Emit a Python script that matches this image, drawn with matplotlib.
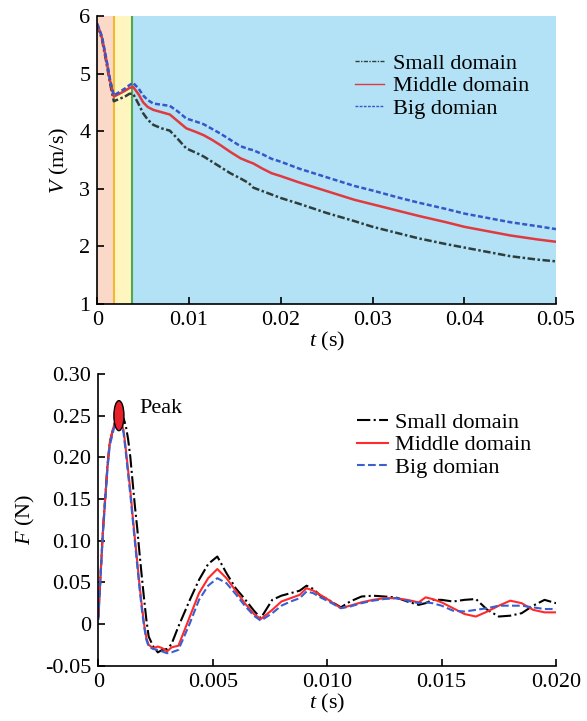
import matplotlib
matplotlib.use("Agg")
import matplotlib.pyplot as plt
from matplotlib.patches import Ellipse

# --- datos: velocidad (arriba) ---
t_vel = [0, 0.0005, 0.001, 0.0014, 0.0018, 0.0024, 0.003, 0.0035, 0.0039, 0.0045,
         0.005, 0.0055, 0.0061, 0.007, 0.0079, 0.0088, 0.0097, 0.0107, 0.0116, 0.0125,
         0.0134, 0.0145, 0.0156, 0.0165, 0.017, 0.018, 0.019, 0.020, 0.022, 0.025,
         0.028, 0.030, 0.033, 0.035, 0.038, 0.040, 0.043, 0.045, 0.048, 0.050]
v_small = [5.84, 5.60, 5.18, 4.82, 4.52, 4.56, 4.60, 4.65, 4.65, 4.47,
           4.31, 4.20, 4.11, 4.05, 4.01, 3.86, 3.70, 3.63, 3.56, 3.47,
           3.38, 3.27, 3.18, 3.10, 3.02, 2.96, 2.90, 2.84, 2.74, 2.58,
           2.44, 2.34, 2.22, 2.14, 2.04, 1.98, 1.89, 1.83, 1.77, 1.74]
v_middle = [5.86, 5.63, 5.22, 4.87, 4.60, 4.65, 4.70, 4.75, 4.77, 4.64,
            4.50, 4.42, 4.37, 4.33, 4.29, 4.17, 4.05, 3.99, 3.93, 3.85,
            3.76, 3.64, 3.53, 3.47, 3.44, 3.35, 3.27, 3.22, 3.11, 2.96,
            2.81, 2.73, 2.61, 2.53, 2.42, 2.34, 2.25, 2.19, 2.12, 2.08]
v_big = [5.86, 5.65, 5.24, 4.89, 4.62, 4.68, 4.74, 4.80, 4.84, 4.74,
         4.62, 4.54, 4.48, 4.46, 4.44, 4.34, 4.22, 4.17, 4.12, 4.04,
         3.96, 3.85, 3.74, 3.69, 3.67, 3.60, 3.52, 3.47, 3.35, 3.20,
         3.05, 2.97, 2.84, 2.76, 2.65, 2.57, 2.48, 2.42, 2.35, 2.30]
stage_bounds = [0, 0.0018, 0.0038, 0.05]

# --- datos: fuerza (abajo) ---
t_force = [0, 0.0001, 0.0002, 0.0004, 0.0005, 0.0007, 0.0008, 0.001, 0.0011, 0.0012,
           0.0013, 0.0014, 0.0015, 0.0016, 0.0017, 0.0018, 0.0019, 0.002, 0.0021, 0.0022,
           0.0024, 0.0026, 0.0028, 0.003, 0.0032, 0.0035,
           0.004, 0.0044, 0.0048, 0.0052, 0.0056, 0.006, 0.0064, 0.0068, 0.0071, 0.0076,
           0.008, 0.0084, 0.0088, 0.0091, 0.0094, 0.0097, 0.0100, 0.0106, 0.011, 0.0115,
           0.012, 0.0125, 0.013, 0.0135, 0.014, 0.0143, 0.0146, 0.015, 0.0155, 0.016,
           0.0165, 0.017, 0.0175, 0.018, 0.0185, 0.019, 0.0195, 0.020]
f_small = [0.008, 0.06, 0.112, 0.19, 0.218, 0.240, 0.245, 0.246, 0.247, 0.238,
           0.222, 0.20, 0.17, 0.141, 0.115, 0.085, 0.057, 0.03, 0.005, -0.015,
           -0.027, -0.034, -0.031, -0.030, -0.024, -0.003,
           0.029, 0.053, 0.072, 0.081, 0.061, 0.043, 0.030, 0.016, 0.007, 0.029,
           0.034, 0.037, 0.040, 0.046, 0.042, 0.034, 0.030, 0.020, 0.027, 0.033,
           0.034, 0.033, 0.032, 0.027, 0.023, 0.025, 0.029, 0.029, 0.027, 0.029,
           0.030, 0.017, 0.009, 0.010, 0.013, 0.022, 0.029, 0.025]
f_middle = [0.008, 0.06, 0.112, 0.19, 0.218, 0.240, 0.245, 0.242, 0.233, 0.21,
            0.185, 0.16, 0.13, 0.102, 0.075, 0.047, 0.022, 0.0, -0.017, -0.025,
            -0.029, -0.027, -0.029, -0.033, -0.028, -0.026,
            0.009, 0.037, 0.055, 0.066, 0.055, 0.040, 0.025, 0.012, 0.006, 0.017,
            0.027, 0.031, 0.035, 0.043, 0.040, 0.035, 0.030, 0.019, 0.022, 0.026,
            0.029, 0.031, 0.031, 0.029, 0.026, 0.032, 0.030, 0.026, 0.019, 0.012,
            0.009, 0.015, 0.022, 0.028, 0.025, 0.017, 0.014, 0.014]
f_big = [0.005, 0.057, 0.108, 0.186, 0.214, 0.237, 0.242, 0.240, 0.230, 0.206,
         0.18, 0.155, 0.126, 0.098, 0.07, 0.043, 0.018, -0.003, -0.019, -0.027,
         -0.030, -0.031, -0.033, -0.035, -0.034, -0.031,
         0.001, 0.029, 0.046, 0.055, 0.049, 0.036, 0.022, 0.010, 0.004, 0.013,
         0.022, 0.027, 0.031, 0.039, 0.037, 0.032, 0.028, 0.019, 0.021, 0.025,
         0.028, 0.030, 0.031, 0.028, 0.025, 0.026, 0.025, 0.022, 0.016, 0.015,
         0.017, 0.019, 0.022, 0.022, 0.022, 0.020, 0.018, 0.018]
peak_t = 0.0009
peak_f = 0.25

etiquetas = ["Small domain", "Middle domain", "Big domian"]

plt.rcParams["font.family"] = ["Liberation Serif", "DejaVu Serif"]
plt.rcParams["mathtext.fontset"] = "custom"
plt.rcParams["mathtext.rm"] = "Liberation Serif"
plt.rcParams["mathtext.it"] = "Liberation Serif:italic"
plt.rcParams["font.size"] = 16
plt.rcParams["axes.unicode_minus"] = False

fig = plt.figure(figsize=(5.87, 7.21), dpi=100)

# ---------- grafico de velocidad ----------
ax1 = fig.add_axes([0.1658, 0.5784, 0.7814, 0.3994])
colores_fondo = ["#FAD9C9", "#FFF5BF", "#B3E1F6"]
for i, c in enumerate(colores_fondo):
    ax1.axvspan(stage_bounds[i], stage_bounds[i + 1], color=c, lw=0, zorder=0)
ax1.axvline(stage_bounds[1], color="#F5B731", lw=1.5, zorder=1)
ax1.axvline(stage_bounds[2], color="#4FA84A", lw=1.5, zorder=1)

ax1.plot(t_vel, v_small, color="#2E3E3C", lw=1.8, ls=(0, (3, 1, 1, 1)), label=etiquetas[0])
ax1.plot(t_vel, v_middle, color="#E0393E", lw=1.8, ls="-", label=etiquetas[1])
ax1.plot(t_vel, v_big, color="#3558C8", lw=1.8, ls=(0, (2, 1)), label=etiquetas[2])

ax1.set_xlim(0, 0.05)
ax1.set_ylim(1, 6)
ax1.set_xticks([0, 0.01, 0.02, 0.03, 0.04, 0.05])
ax1.set_xticklabels(["0", "0.01", "0.02", "0.03", "0.04", "0.05"])
ax1.set_yticks([1, 2, 3, 4, 5, 6])
ax1.set_xlabel(r"$t$ (s)", labelpad=0)
ax1.set_ylabel(r"$V$ (m/s)", labelpad=6)
leg1 = ax1.legend(loc="upper left", bbox_to_anchor=(0.562, 0.87), frameon=False,
                  borderpad=0, borderaxespad=0, handlelength=1.3, handletextpad=0.4,
                  labelspacing=0.08)
for ln in leg1.get_lines():
    ln.set_linewidth(1.0)

# ---------- grafico de fuerza ----------
ax2 = fig.add_axes([0.1675, 0.0767, 0.7797, 0.4046])
ax2.plot(t_force, f_small, color="black", lw=1.5, ls="-.", label=etiquetas[0])
ax2.plot(t_force, f_middle, color="#FF2A2A", lw=1.5, ls="-", label=etiquetas[1])
ax2.plot(t_force, f_big, color="#3A5FD0", lw=1.5, ls="--", label=etiquetas[2])
ax2.add_patch(Ellipse((peak_t, peak_f), 0.00044, 0.036, facecolor="#E8202A",
                      edgecolor="black", lw=1, zorder=5))
ax2.text(0.0018, 0.258, "Peak", ha="left", va="center")

ax2.set_xlim(0, 0.020)
ax2.set_ylim(-0.05, 0.30)
ax2.set_xticks([0, 0.005, 0.010, 0.015, 0.020])
ax2.set_xticklabels(["0", "0.005", "0.010", "0.015", "0.020"])
ax2.set_yticks([-0.05, 0, 0.05, 0.10, 0.15, 0.20, 0.25, 0.30])
ax2.set_yticklabels(["-0.05", "0", "0.05", "0.10", "0.15", "0.20", "0.25", "0.30"])
ax2.set_xlabel(r"$t$ (s)", labelpad=0)
ax2.set_ylabel(r"$F$ (N)", labelpad=6)
ax2.legend(loc="upper left", bbox_to_anchor=(0.565, 0.868), frameon=False,
           borderpad=0, borderaxespad=0, handlelength=1.4, handletextpad=0.3,
           labelspacing=0.08)

for ax in (ax1, ax2):
    ax.spines["top"].set_visible(False)
    ax.spines["right"].set_visible(False)
    ax.spines["left"].set_linewidth(1.2)
    ax.spines["bottom"].set_linewidth(1.2)
    ax.tick_params(direction="in", length=5, width=1.2, labelsize=16, pad=5)

fig.savefig("out.png", dpi=100)
plt.close(fig)
